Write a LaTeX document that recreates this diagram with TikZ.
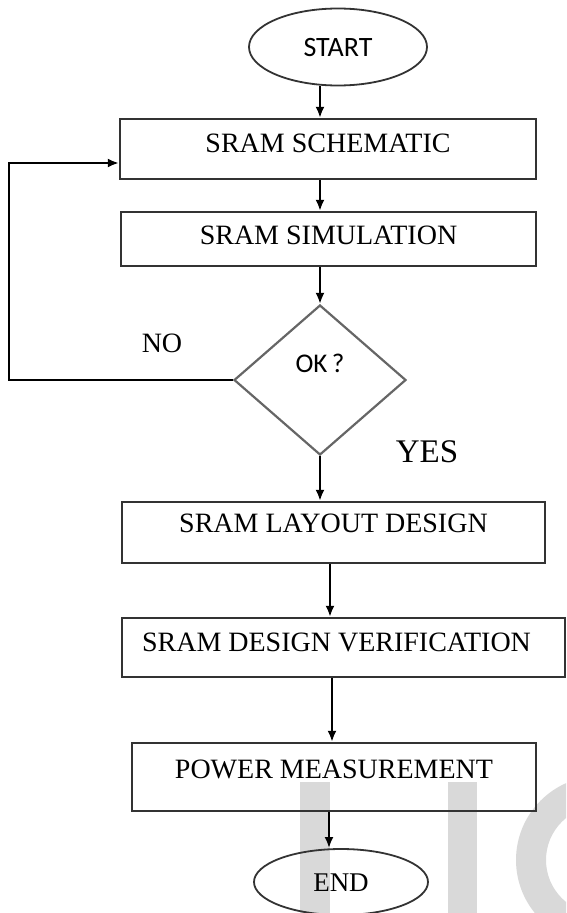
\documentclass[tikz,border=0pt]{standalone}
\usepackage{fontspec}
\setmainfont{Liberation Serif}
\newfontfamily\calibri{Carlito}
\usetikzlibrary{shapes.geometric,arrows.meta}
\tikzset{
  procbox/.style  = {shape=rectangle, draw=black!80, line width=2.3pt,
                     inner sep=0pt, text height=18.5pt, text depth=12pt,
                     font=\fontsize{28}{30}\selectfont},
  terminal/.style = {shape=ellipse, draw=black!80, line width=1.8pt,
                     inner sep=0pt, text height=18.5pt, text depth=0pt},
  decision/.style = {shape=diamond, draw=black!60, line width=2.2pt,
                     inner sep=0pt, minimum width=172pt, minimum height=150pt,
                     text height=17.4pt, text depth=32pt,
                     font=\calibri\fontsize{27}{29}\selectfont},
  flow/.style     = {draw, line width=2.2pt, -{Latex[length=11pt,width=9pt]}},
  answer/.style   = {inner sep=0pt}
}

\begin{document}
\begin{tikzpicture}[x=1pt, y=-1pt]
    \useasboundingbox (0,0) rectangle (566,913);
    \clip (0,0) rectangle (566,913);

    % faint watermark behind the chart
    \fill[black!15] (300,782) rectangle (330,913);
    \fill[black!15] (448,782) rectangle (477,913);
    \fill[black!15, even odd rule] (600,860) circle (84) (600,860) circle (54);

    \node [terminal, minimum width=178pt, minimum height=77pt,
           font=\calibri\fontsize{28}{30}\selectfont] (start) at (338,47) {START};
    \node [procbox, minimum width=416pt, minimum height=60pt] (schematic) at (328,149) {SRAM SCHEMATIC};
    \node [procbox, minimum width=415pt, minimum height=54pt, text depth=8pt] (simulation) at (328.5,239) {SRAM SIMULATION};
    \node [decision] (ok) at (320,380) {OK\,?};
    \node [procbox, minimum width=423pt, minimum height=61pt, text depth=19pt] (layout) at (333.5,532.5) {SRAM LAYOUT DESIGN};
    \node [procbox, minimum width=443pt, minimum height=59pt, text depth=11pt] (verification) at (343.5,647.5) {\hspace*{-14pt}SRAM DESIGN VERIFICATION};
    \node [procbox, minimum width=404pt, minimum height=68pt, text depth=16pt] (power) at (334,777) {POWER MEASUREMENT};
    \node [terminal, minimum width=174pt, minimum height=66pt,
           font=\fontsize{27}{29}\selectfont] (end) at (341,882) {END};

    \node [answer, font=\fontsize{28}{30}\selectfont] (no) at (162,343) {NO};
    \node [answer, font=\fontsize{33}{35}\selectfont] (yes) at (427,452) {YES};

    \coordinate (loopbottom) at (9,380);
    \coordinate (looptop) at (9,163);

    \draw [flow] (ok.north |- start.south) -- (ok.north |- schematic.north);
    \draw [flow] (ok.north |- schematic.south) -- (ok.north |- simulation.north);
    \draw [flow] (ok.north |- simulation.south) -- (ok.north);
    \draw [flow] (ok.south) -- (ok.south |- layout.north);
    \draw [flow] ([xshift=-3.5pt]layout.south) -- ([xshift=-3.5pt]layout.south |- verification.north);
    \draw [flow] ([xshift=-11.5pt]verification.south) -- ([xshift=-11.5pt]verification.south |- power.north);
    \draw [flow] ([xshift=-5pt]power.south) -- ([xshift=-5pt]power.south |- end.north);
    \draw [flow] (ok.west) -- (loopbottom) -- (looptop) -- (looptop -| schematic.west);

\end{tikzpicture}
\end{document}
